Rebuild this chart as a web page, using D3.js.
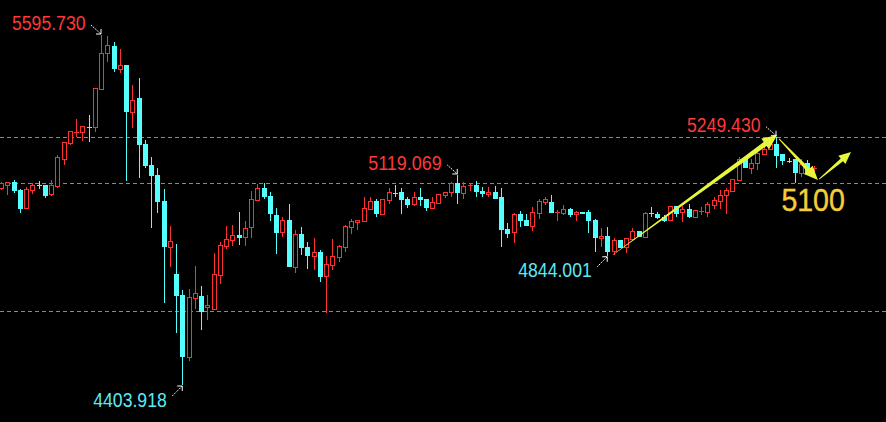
<!DOCTYPE html>
<html>
<head>
<meta charset="utf-8">
<script src="https://cdn.jsdelivr.net/npm/d3@7"></script>
<style>
html, body { margin: 0; background: #000; overflow: hidden; }
</style>
</head>
<body>
<div id="chart"></div>
<script>
// candle values (one per bar, left to right)
var opens = [
  5075,5085,5095,5068,5007,5068,5085,5085,5054,5082,
  5174,5228,5265,5265,5282,5282,5412,5534,5558,5480,
  5494,5334,5381,5225,5153,5119,5031,4874,4782,4710,
  4499,4700,4707,4670,4663,4779,4877,4898,4915,4908,
  4942,5034,5075,5048,4983,4925,4966,4806,4918,4874,
  4843,4857,4775,4813,4840,4874,4942,4959,4962,5003,
  5031,4986,5034,5058,5061,5037,5020,5044,5037,5007,
  5024,5051,5061,5092,5058,5083,5085,5065,5054,5061,
  5044,4935,4925,4986,4966,4945,4990,5027,5027,4991,
  4990,5003,4986,4993,4993,4966,4905,4911,4860,4898,
  4874,4901,4928,4908,4988,4986,4976,4966,5013,4993,
  5003,4976,4995,4993,5017,5031,5051,5065,5102,5174,
  5143,5160,5191,5208,5225,5191,5168,5174,5126,5160,5141
];
var highs = [
  5095,5096,5102,5071,5078,5092,5099,5085,5102,5187,
  5231,5269,5310,5286,5323,5415,5595.73,5592,5572,5548,
  5494,5426,5449,5238,5180,5143,5071,4945,4884,4727,
  4731,4809,4741,4710,4853,4891,4945,4949,4993,4962,
  5065,5088,5092,5061,5007,4976,5020,4932,4942,4891,
  4905,4864,4843,4901,4881,4949,4969,4966,5044,5044,
  5037,5037,5075,5085,5075,5044,5061,5075,5037,5044,
  5054,5061,5095,5119.069,5095,5092,5099,5078,5078,5082,
  5075,4956,4990,4996,4986,5010,5037,5044,5051,5000,
  5017,5007,4996,4993,5000,4969,4939,4942,4905,4898,
  4905,4939,4928,4993,5010,4993,4983,5013,5013,5013,
  5020,5000,5010,5027,5044,5068,5075,5105,5180,5174,
  5174,5208,5214,5231,5249.43,5191,5177,5174,5174,5170,5150
];
var lows = [
  5068,5051,5058,4990,5007,5054,5071,5041,5048,5075,
  5153,5221,5248,5235,5231,5265,5412,5504,5470,5466,
  5099,5279,5109,5143,4939,4990,4683,4806,4581,4403.918,
  4486,4663,4591,4625,4663,4748,4867,4877,4881,4877,
  4905,5034,5037,4962,4850,4908,4806,4785,4847,4799,
  4796,4755,4649,4796,4823,4857,4918,4932,4962,5003,
  4976,4986,5020,5044,4986,5007,5013,5013,4996,5007,
  5024,5041,5044,5020,5037,5065,5044,5044,5044,5037,
  4874,4905,4887,4942,4945,4928,4969,5017,4990,4962,
  4983,4976,4962,4986,4922,4857,4874,4844.001,4847,4870,
  4853,4901,4908,4905,4976,4969,4959,4966,4976,4959,
  4973,4976,4983,4976,5003,5003,4986,5065,5102,5143,
  5122,5136,5191,5208,5143,5153,5160,5092,5112,5126,5129
];
var closes = [
  5092,5095,5065,5003,5071,5085,5083,5048,5085,5180,
  5231,5269,5267,5286,5281,5415,5534,5562,5480,5494,
  5334,5374,5221,5150,5116,5027,4874,4894,4707,4499,
  4704,4717,4653,4676,4782,4881,4901,4915,4905,4939,
  5037,5075,5044,4986,4922,4966,4806,4918,4870,4843,
  4857,4772,4816,4843,4877,4945,4962,4966,5007,5031,
  4986,5037,5061,5056,5034,5017,5044,5034,5007,5027,
  5054,5061,5092,5058,5082,5085,5061,5054,5061,5037,
  4932,4918,4986,4962,4945,4993,5031,5037,4990,4993,
  5003,4983,4993,4986,4962,4905,4911,4857,4898,4870,
  4905,4928,4908,4990,4986,4973,4962,5013,4986,5003,
  4976,5000,4996,5020,5034,5051,5068,5105,5174,5143,
  5160,5194,5208,5225,5184,5167,5167,5126,5156,5126,5143
];

// dashed price levels
var levels = [5248, 5091, 4656];

// marked extremes: bar index, price, label
var markIdx = [16, 29, 73, 97, 124];
var markPrice = [5595.73, 4403.918, 5119.069, 4844.001, 5249.43];
var markText = ["5595.730", "4403.918", "5119.069", "4844.001", "5249.430"];
var markSide = ["top", "bottom", "top", "bottom", "top"];

// hand drawn yellow arrows: [bar index, price] start -> end
var arrowFrom = [[97.9, 4847], [124.5, 5242], [130.9, 5105]];
var arrowTo = [[124.2, 5255], [130.7, 5102], [136, 5197]];
var targetText = "5100";

var width = 886, height = 422;
var upColor = "#ff3030", downColor = "#54ffff";

var svg = d3.select("#chart").append("svg")
    .attr("width", width)
    .attr("height", height)
    .style("background", "#000");

var x = d3.scaleLinear().domain([0, opens.length - 1]).range([1, 813.5]);
var y = d3.scaleLinear().domain([4403.918, 5595.73]).range([385, 35]);

// levels
svg.append("g").selectAll("line")
    .data(levels)
    .enter().append("line")
    .attr("x1", 0).attr("x2", width)
    .attr("y1", function (d) { return Math.round(y(d)) + 0.5; })
    .attr("y2", function (d) { return Math.round(y(d)) + 0.5; })
    .attr("stroke", "#c47a30")
    .attr("stroke-width", 1)
    .attr("stroke-dasharray", "4,3")
    .attr("shape-rendering", "crispEdges");

var bars = d3.range(opens.length).map(function (i) {
    return {i: i, o: opens[i], h: highs[i], l: lows[i], c: closes[i]};
});

var g = svg.append("g").attr("class", "candles")
    .attr("shape-rendering", "crispEdges");

bars.forEach(function (d) {
    var cx = Math.round(x(d.i)) + 0.5;
    var up = d.c >= d.o;
    var col = up ? upColor : downColor;
    var yTop = y(Math.max(d.o, d.c)), yBot = y(Math.min(d.o, d.c));
    g.append("line")
        .attr("x1", cx).attr("x2", cx)
        .attr("y1", Math.round(y(d.h))).attr("y2", Math.round(y(d.l)))
        .attr("stroke", col).attr("stroke-width", 1);
    if (yBot - yTop < 1.5) {
        var yy = Math.round(yTop) + 0.5;
        g.append("line")
            .attr("x1", cx - 2.5).attr("x2", cx + 2.5)
            .attr("y1", yy).attr("y2", yy)
            .attr("stroke", col).attr("stroke-width", 1);
    } else if (up) {
        g.append("rect")
            .attr("x", cx - 2).attr("width", 4)
            .attr("y", Math.round(yTop) + 0.5)
            .attr("height", Math.max(1, Math.round(yBot) - Math.round(yTop)))
            .attr("fill", "#000").attr("stroke", col).attr("stroke-width", 1);
    } else {
        g.append("rect")
            .attr("x", cx - 2.5).attr("width", 5)
            .attr("y", Math.round(yTop))
            .attr("height", Math.max(1, Math.round(yBot) - Math.round(yTop)))
            .attr("fill", col);
    }
});

// yellow tapered arrows
function taper(x1, y1, x2, y2, w0, w1, hl, hw) {
    var dx = x2 - x1, dy = y2 - y1, len = Math.sqrt(dx * dx + dy * dy);
    var ux = dx / len, uy = dy / len, nx = -uy, ny = ux;
    var bx = x2 - ux * hl, by = y2 - uy * hl;
    var pts = [
        [x1 + nx * w0 / 2, y1 + ny * w0 / 2],
        [bx + nx * w1 / 2, by + ny * w1 / 2],
        [bx + nx * hw, by + ny * hw],
        [x2, y2],
        [bx - nx * hw, by - ny * hw],
        [bx - nx * w1 / 2, by - ny * w1 / 2],
        [x1 - nx * w0 / 2, y1 - ny * w0 / 2]
    ];
    return "M" + pts.map(function (p) { return p[0].toFixed(1) + "," + p[1].toFixed(1); }).join("L") + "Z";
}

var arrowSize = [[0.5, 5, 15, 6.5], [0.8, 4, 14, 6], [0.8, 3.5, 12, 5.5]];
arrowFrom.forEach(function (a, k) {
    var b = arrowTo[k], s = arrowSize[k];
    svg.append("path")
        .attr("d", taper(x(a[0]), y(a[1]), x(b[0]), y(b[1]), s[0], s[1], s[2], s[3]))
        .attr("fill", "#e8f73c");
});

// marks of the extremes
markIdx.forEach(function (idx, k) {
    var px = x(idx), py = y(markPrice[k]);
    var top = markSide[k] == "top";
    var col = top ? "#ff3838" : "#5ee8f5";
    svg.append("text")
        .attr("x", px - 15.5 - 73.5)
        .attr("y", top ? py - 5 : py + 21.5)
        .attr("font-family", "'Liberation Sans Narrow', 'Arial Narrow', 'Liberation Sans', Arial, sans-serif")
        .attr("font-size", 20)
        .attr("textLength", 73.5)
        .attr("lengthAdjust", "spacingAndGlyphs")
        .attr("fill", col)
        .text(markText[k]);
    var x1 = px - 10, y1 = top ? py - 10 : py + 11;
    var x2 = px, y2 = top ? py - 1 : py + 1;
    var sgn = top ? 1 : -1;
    svg.append("line")
        .attr("x1", x1).attr("y1", y1).attr("x2", x2).attr("y2", y2)
        .attr("stroke", "#fff").attr("stroke-width", 1)
        .attr("stroke-dasharray", "1.5,1");
    svg.append("path")
        .attr("d", "M" + (x2 - 5) + "," + y2 + "L" + x2 + "," + y2 + "L" + x2 + "," + (y2 - 5 * sgn))
        .attr("fill", "none").attr("stroke", "#fff").attr("stroke-width", 1);
});

// target text under the second arrow
var tip = arrowTo[1];
svg.append("text")
    .attr("x", x(tip[0]) - 36.5)
    .attr("y", y(tip[1]) + 31)
    .attr("font-family", "'Liberation Sans Narrow', 'Arial Narrow', 'Liberation Sans', Arial, sans-serif")
    .attr("font-size", 31)
    .attr("textLength", 63.5)
    .attr("lengthAdjust", "spacingAndGlyphs")
    .attr("fill", "#f5cc3a")
    .attr("stroke", "#f5cc3a")
    .attr("stroke-width", 0.4)
    .text(targetText);
</script>
</body>
</html>
